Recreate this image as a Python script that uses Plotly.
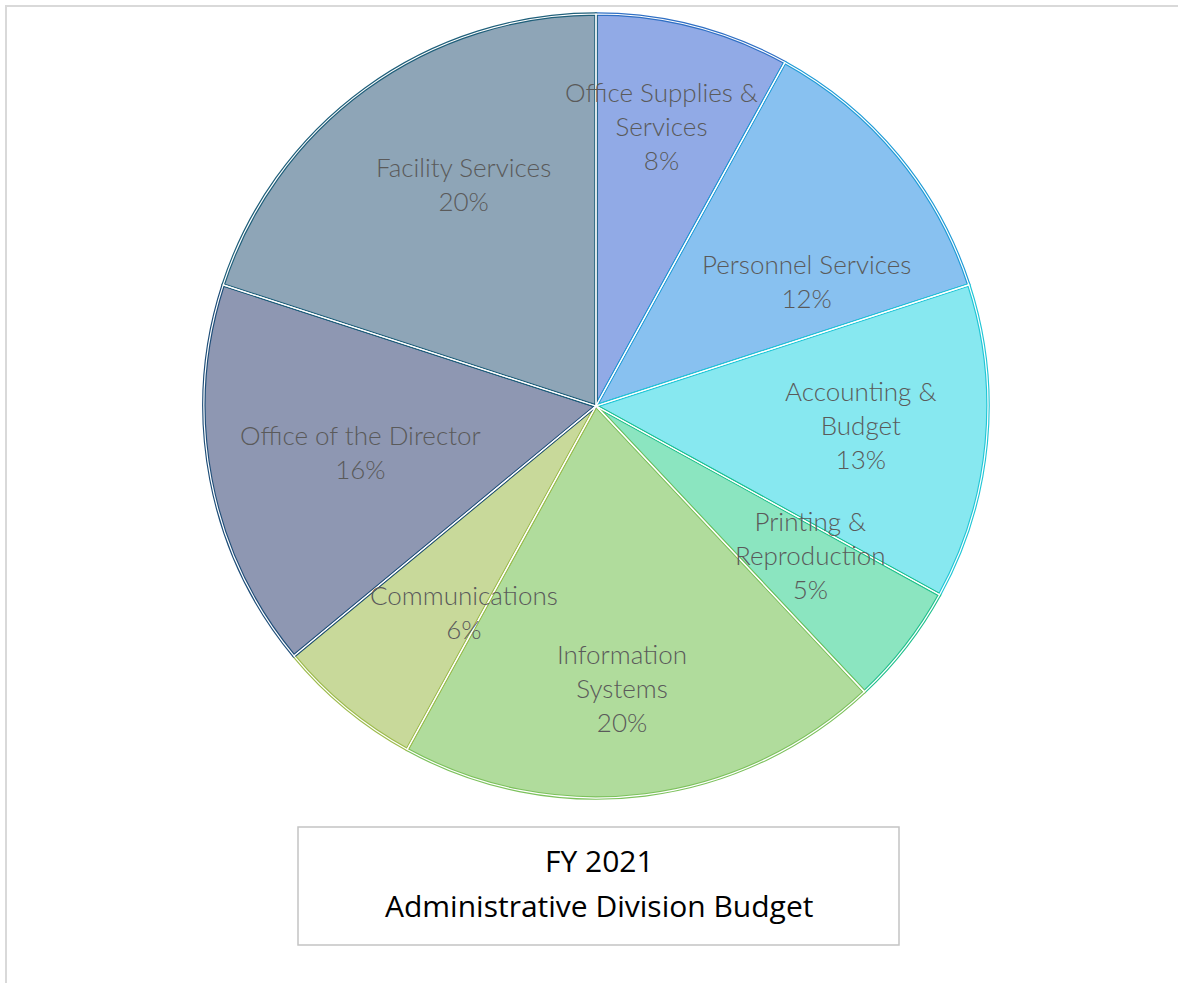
import math
import plotly.graph_objects as go

# FY 2021 Administrative Division budget shares (percent)
categories = [
    "Office Supplies & Services",
    "Personnel Services",
    "Accounting & Budget",
    "Printing & Reproduction",
    "Information Systems",
    "Communications",
    "Office of the Director",
    "Facility Services",
]
shares = [8, 12, 13, 5, 20, 6, 16, 20]

# how each label breaks across lines
label_text = {
    "Office Supplies & Services": "Office Supplies &<br>Services",
    "Personnel Services": "Personnel Services",
    "Accounting & Budget": "Accounting &<br>Budget",
    "Printing & Reproduction": "Printing &<br>Reproduction",
    "Information Systems": "Information<br>Systems",
    "Communications": "Communications",
    "Office of the Director": "Office of the Director",
    "Facility Services": "Facility Services",
}

title_lines = ["FY 2021", "Administrative Division Budget"]

fill_colors = ["#91aae6", "#88c1f0", "#87e8f0", "#8be5c0",
               "#b0dc9c", "#c8d99a", "#8e97b2", "#8ea5b7"]
edge_colors = ["#2f6fc4", "#1f9bd6", "#22c6d6", "#20c08c",
               "#7cc15c", "#9dbb4c", "#1f4e79", "#1f5f7a"]

W, H = 1178, 983
CX, CY, R = 596, 406, 392          # pie centre and radius in pixels

# pie domain (paper fractions) that yields the circle above
dom_x = [(CX - R) / W, (CX + R) / W]
dom_y = [1 - (CY + R) / H, 1 - (CY - R) / H]

fig = go.Figure()
# coloured slices with coloured outlines
fig.add_trace(go.Pie(
    labels=categories, values=shares, sort=False, direction="clockwise",
    rotation=0, domain=dict(x=dom_x, y=dom_y),
    marker=dict(colors=fill_colors, line=dict(color=edge_colors, width=3.5)),
    textinfo="none", hoverinfo="label+percent", showlegend=False,
))
# thin white seams between neighbouring slices
fig.add_trace(go.Pie(
    labels=categories, values=shares, sort=False, direction="clockwise",
    rotation=0, domain=dict(x=dom_x, y=dom_y),
    marker=dict(colors=["rgba(0,0,0,0)"] * len(categories),
                line=dict(color="white", width=1.2)),
    textinfo="none", hoverinfo="skip", showlegend=False,
))

# data labels placed at each slice's mid angle, then nudged (pixels)
label_radius = 0.67
nudge = {
    "Office Supplies & Services": (0, -26),
    "Personnel Services": (8, 42),
    "Accounting & Budget": (4, -6),
    "Printing & Reproduction": (7, -12),
    "Information Systems": (-7, 21),
    "Communications": (35, 4),
    "Office of the Director": (22, -3),
    "Facility Services": (22, -10),
}
total = sum(shares)
annotations = []
cum = 0.0
for cat, v in zip(categories, shares):
    mid = (cum + v / 2) / total * 2 * math.pi
    cum += v
    px = CX + label_radius * R * math.sin(mid)
    py = CY - label_radius * R * math.cos(mid)
    dx, dy = nudge.get(cat, (0, 0))
    pct = round(v / total * 100)
    annotations.append(dict(
        x=(px + dx) / W, y=1 - (py + dy) / H, xref="paper", yref="paper",
        text=f"{label_text[cat]}<br>{pct}%", showarrow=False,
        xanchor="center", yanchor="middle", align="center",
        font=dict(family="Lato, sans-serif", size=26, weight=300, color="#5a5a5a"),
    ))

# chart title inside its framed box
for line, ypix in zip(title_lines, [860, 905]):
    annotations.append(dict(
        x=599 / W, y=1 - ypix / H, xref="paper", yref="paper",
        text=line, showarrow=False, xanchor="center", yanchor="middle",
        font=dict(family="Open Sans, sans-serif", size=30, color="#000000"),
    ))

shapes = [
    # title frame
    dict(type="rect", xref="paper", yref="paper",
         x0=298 / W, x1=899 / W, y0=1 - 945 / H, y1=1 - 827 / H,
         line=dict(color="#c4c4c4", width=1.5), fillcolor="white", layer="below"),
    # outer chart-area frame
    dict(type="rect", xref="paper", yref="paper",
         x0=6 / W, x1=1.05, y0=-0.05, y1=1 - 6 / H,
         line=dict(color="#d9d9d9", width=2), fillcolor="rgba(0,0,0,0)", layer="below"),
]

fig.update_layout(
    width=W, height=H, margin=dict(l=0, r=0, t=0, b=0),
    paper_bgcolor="white", plot_bgcolor="white",
    annotations=annotations, shapes=shapes,
)

fig.write_html("out.html")
